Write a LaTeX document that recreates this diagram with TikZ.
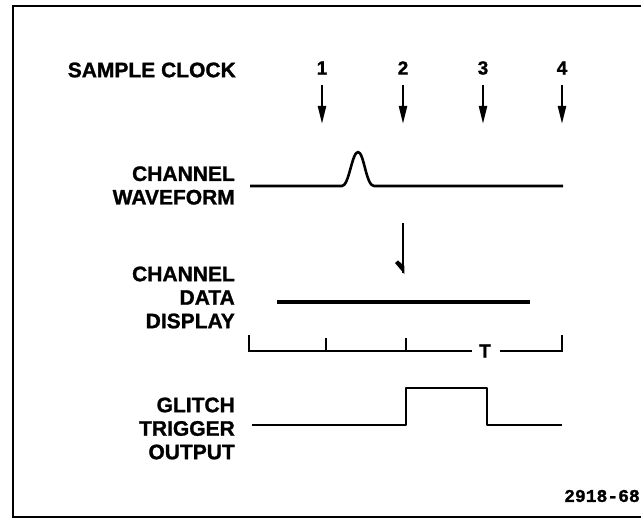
\documentclass[tikz,border=0pt]{standalone}
\usepackage{fontspec}
\setmainfont{Liberation Sans}[BoldFeatures={FakeBold=1.2}]
\newfontfamily\codefont{Liberation Mono}[BoldFeatures={FakeBold=1.2}]
\usetikzlibrary{arrows.meta}
\begin{document}
\begin{tikzpicture}[x=1pt,y=-1pt,
  lbl/.style={font=\fontsize{21}{23.5}\selectfont\bfseries, align=right, inner sep=0pt, anchor=east},
  num/.style={font=\fontsize{19}{20}\selectfont\bfseries, inner sep=0pt},
  frame/.style={line width=2pt},
  wave/.style={line width=2.6pt, line join=round},
  clk/.style={line width=2.4pt, -{Triangle[length=18pt,width=8pt]}},
  scl/.style={line width=2pt}]
\useasboundingbox (0,0) rectangle (641,518);
% frame
\draw[frame] (641,6) -- (13,6) -- (13,517) -- (641,517);
% labels
\node[lbl] (sc) at (236,70) {SAMPLE CLOCK};
\node[lbl] (cw) at (235,185.5) {CHANNEL\\WAVEFORM};
\node[lbl] (cd) at (235,297.5) {CHANNEL\\DATA\\DISPLAY};
\node[lbl] (gt) at (235,428.5) {GLITCH\\TRIGGER\\OUTPUT};
% clock numbers and arrows
\foreach \i/\x in {1/322,2/403,3/483,4/562}{
  \node[num] (n\i) at (\x,68) {\i};
  \coordinate (a\i) at (\x,85);
  \coordinate (b\i) at (\x,124);
  \draw[clk] (a\i) -- (b\i);
}
% channel waveform
\coordinate (w0) at (250,186);
\coordinate (w1) at (563,186);
\draw[wave] (w0) -- (342,186) .. controls (349,186) and (352,152) .. (358,152)
  .. controls (364,152) and (366,186) .. (374,186) -- (w1);
% glitch arrow
\coordinate (g0) at (403,223);
\coordinate (g1) at (403,273);
\draw[line width=2.6pt] (g0) -- (g1);
\fill (404.3,274) -- (395,263) -- (398,260.5) -- (404.3,266) -- cycle;
% data line
\coordinate (d0) at (277,302);
\coordinate (d1) at (530,302);
\draw[line width=3.6pt] (d0) -- (d1);
% scale
\node[num] (T) at (485,351) {T};
\draw[scl] (249,335) -- (249,351) -- (472,351);
\draw[scl] (500,351) -- (562,351) -- (562,335);
\draw[scl] (326,351) -- (326,338);
\draw[scl] (406,351) -- (406,338);
% glitch trigger output
\draw[wave] (252,425) -- (406,425) -- (406,388) -- (487,388) -- (487,425) -- (562,425);
% figure number
\node[font=\codefont\fontsize{18}{20}\selectfont\bfseries, inner sep=0pt, anchor=east] (fig) at (640,496) {2918-68};
\end{tikzpicture}
\end{document}
